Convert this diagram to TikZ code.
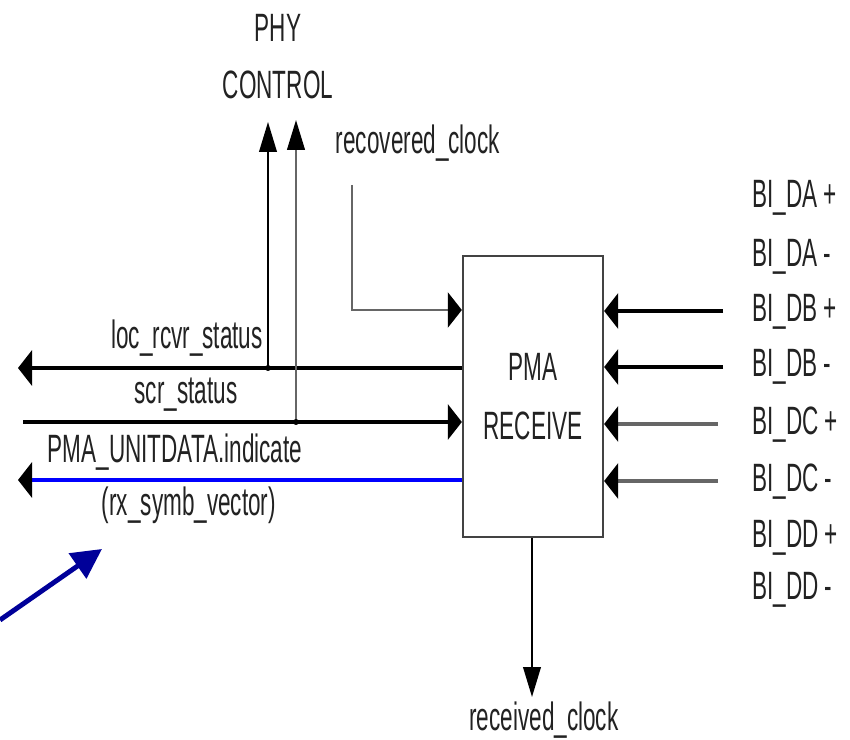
\documentclass[tikz,border=0pt]{standalone}
\usepackage{fontspec}
\setmainfont{Liberation Sans}[FakeStretch=0.57]
\usetikzlibrary{arrows.meta, positioning, calc}
\definecolor{wire}{HTML}{666666}
\definecolor{ink}{HTML}{222222}
\definecolor{pointer}{HTML}{000099}

\tikzset{
  lbl/.style={font=\fontsize{22.5}{26}\selectfont, text=ink, inner sep=0pt},
  blockbox/.style={draw=ink!85, line width=1.3pt, minimum width=2.8cm, minimum height=5.62cm,
    align=center, font=\fontsize{22.5}{34}\selectfont, text=ink},
  harr/.style={-{Triangle[length=8pt,width=20pt,color=black]}},
  varr/.style={-{Triangle[length=17pt,width=10pt,color=black]}},
  sig/.style={line width=2.8pt, black},
  fine/.style={line width=1.1pt, black},
  gwire/.style={line width=1.3pt, wire},
}

\begin{document}
\begin{tikzpicture}[x=0.02cm, y=-0.02cm]
  \useasboundingbox (0,0) rectangle (850,740);

%block and labels
  \node[blockbox] (pma) at (533,396.5) {PMA\\RECEIVE};
  \node[lbl] (phy) at (278,28) {PHY};
  \node[lbl] (ctrl) at (278,85) {CONTROL};
  \node[lbl] (rclk) at (418,143) {recovered\_clock};
  \node[lbl] (loc) at (187,338) {loc\_rcvr\_status};
  \node[lbl] (scr) at (186,395) {scr\_status};
  \node[lbl] (unit) at (175,452) {PMA\_UNITDATA.indicate};
  \node[lbl] (vec) at (189,505) {(rx\_symb\_vector)};
  \node[lbl] (rxclk) at (544,720) {received\_clock};
  \foreach \txt/\y [count=\i] in {BI\_DA +/198, BI\_DA -/257, BI\_DB +/312, BI\_DB -/367,
      BI\_DC +/425, BI\_DC -/482, BI\_DD +/538, BI\_DD -/590}
    \node[lbl, anchor=west] (bi\i) at (752,\y) {\txt};

%free ends
  \coordinate (locL) at (18,368);
  \coordinate (scrL) at (23,422);
  \coordinate (unitL) at (18,480);
  \coordinate (ctlA) at (268,122);
  \coordinate (ctlB) at (296,120);
  \coordinate (rcTop) at (352,185);
  \coordinate (rcIn) at (463,310);
  \coordinate (clkOut) at (532,697);
  \coordinate (dbP) at (723,311);
  \coordinate (dbM) at (723,367);
  \coordinate (dcP) at (718,424);
  \coordinate (dcM) at (718,481);
  \coordinate (ptrA) at (0,620);
  \coordinate (ptrB) at (102,549);

%signals left
  \draw[sig,harr] (locL -| pma.west) -- (locL);
  \draw[black, line width=1.8pt, harr] (scrL) -- (scrL -| pma.west);
  \draw[line width=2.3pt, blue, harr] (unitL -| pma.west) -- (unitL);
  \draw[fine,varr] (ctlA |- locL) -- (ctlA);
  \draw[gwire,varr] (ctlB |- scrL) -- (ctlB);
  \fill (ctlA |- locL) circle (1.7pt);
  \fill (ctlB |- scrL) circle (1.7pt);
  \draw[gwire,harr] (rcTop) |- (rcIn -| pma.west);

%signals right
  \foreach \c/\s in {dbP/black, dbM/black, dcP/wire, dcM/wire}
    \draw[\s, line width=2.3pt, harr] (\c) -- (\c -| pma.east);
  \draw[fine,varr] (pma.south -| clkOut) -- (clkOut);

%pointer
  \draw[pointer, line width=2.8pt, -{Triangle[length=17pt,width=17pt]}] (ptrA) -- (ptrB);
\end{tikzpicture}
\end{document}
